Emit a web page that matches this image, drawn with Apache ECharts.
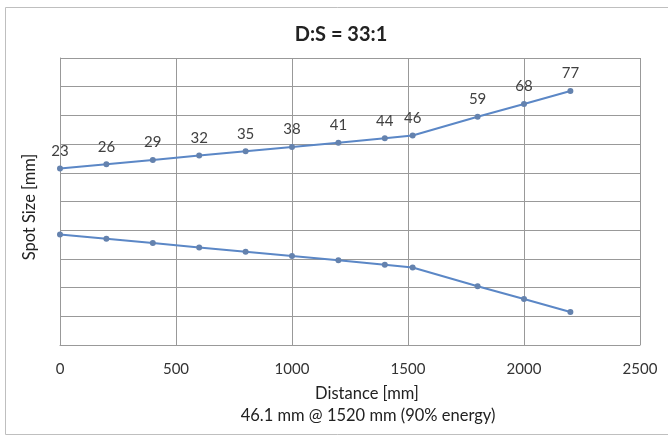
<!DOCTYPE html>
<html>
<head>
<meta charset="utf-8">
<script src="https://cdn.jsdelivr.net/npm/echarts@6/dist/echarts.min.js"></script>
<style>
html,body{margin:0;padding:0;background:#fff;}
#c{width:668px;height:437px;}
</style>
</head>
<body>
<div id="c"></div>
<script>
const distances = [0, 200, 400, 600, 800, 1000, 1200, 1400, 1520, 1800, 2000, 2200];
const spotSizes = [23, 26, 29, 32, 35, 38, 41, 44, 46, 59, 68, 77];
const upperEdge = [11.5, 13, 14.5, 16, 17.5, 19, 20.5, 22, 23, 29.5, 34, 38.5];
const lowerEdge = [-11.5, -13, -14.5, -16, -17.5, -19, -20.5, -22, -23, -29.5, -34, -38.5];
const xTicks = [0, 500, 1000, 1500, 2000, 2500];
const titleText = 'D:S = 33:1';
const xName = 'Distance [mm]';
const yName = 'Spot Size [mm]';
const noteText = '46.1 mm @ 1520 mm (90% energy)';

const font = 'Lato, "Open Sans", sans-serif';
const chart = echarts.init(document.getElementById('c'), null, {renderer: 'canvas'});
const lineColor = '#5b87c6';
const dotColor = '#6482ae';

function txt(text, x, y, size, weight, rot) {
  return {
    type: 'text', silent: true, x: x, y: y, rotation: rot || 0,
    style: {text: text, align: 'center', verticalAlign: 'middle',
      font: (weight || 'normal') + ' ' + size + 'px ' + font, fill: '#222'}
  };
}

chart.setOption({
  animation: false,
  backgroundColor: '#fff',
  textStyle: {fontFamily: font},
  graphic: [
    {type: 'rect', silent: true,
     shape: {x: 5.5, y: 7.5, width: 700, height: 427},
     style: {fill: 'none', stroke: '#bfbfbf', lineWidth: 1}},
    txt(titleText, 341, 35, 20, 'bold'),
    txt(xName, 367, 394, 16.5),
    txt(noteText, 368, 416, 16.5),
    txt(yName, 30, 207, 16.5, 'normal', Math.PI / 2)
  ],
  grid: {left: 60, right: 28, top: 58, bottom: 92, containLabel: false},
  xAxis: {
    type: 'value', min: 0, max: 2500, interval: 500,
    axisLine: {show: true, onZero: false, lineStyle: {color: '#999', width: 1}},
    axisTick: {show: false},
    axisLabel: {fontFamily: font, fontSize: 15, color: '#333', margin: 17,
      formatter: v => xTicks.includes(v) ? String(v) : ''},
    splitLine: {show: true, lineStyle: {color: '#999', width: 1}}
  },
  yAxis: {
    type: 'value', min: -50, max: 50, interval: 10,
    axisLine: {show: true, lineStyle: {color: '#999', width: 1}},
    axisTick: {show: false},
    axisLabel: {show: false},
    splitLine: {show: true, lineStyle: {color: '#999', width: 1}}
  },
  series: [
    {
      type: 'line', name: 'upper',
      data: distances.map((d, i) => [d, upperEdge[i], spotSizes[i]]),
      symbol: 'circle', symbolSize: 6,
      lineStyle: {color: lineColor, width: 2},
      itemStyle: {color: dotColor},
      label: {show: true, position: 'top', distance: 7, fontFamily: font, fontSize: 15, color: '#404040',
        formatter: p => String(p.value[2])}
    },
    {
      type: 'line', name: 'lower',
      data: distances.map((d, i) => [d, lowerEdge[i]]),
      symbol: 'circle', symbolSize: 6,
      lineStyle: {color: lineColor, width: 2},
      itemStyle: {color: dotColor},
      label: {show: false}
    }
  ]
});
</script>
</body>
</html>
